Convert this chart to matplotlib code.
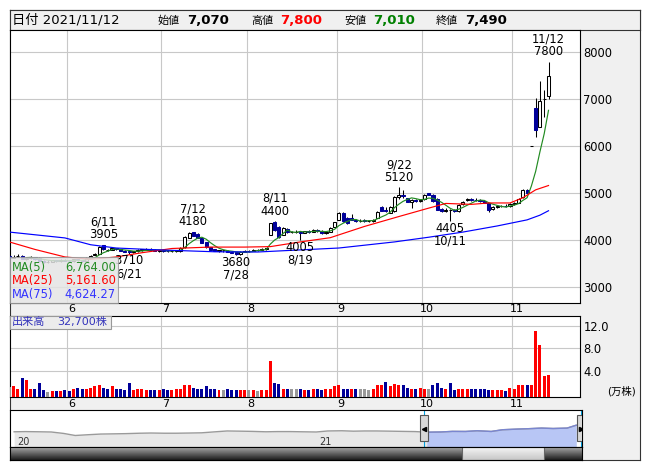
import matplotlib.pyplot as plt
from matplotlib.patches import Rectangle
import matplotlib.transforms as mtransforms
import numpy as np
import pandas as pd

plt.rcParams['font.family'] = ['DejaVu Sans', 'Noto Sans CJK JP']

# trading days shown (Tokyo, 2021-05-12 .. 2021-11-12)
holidays = ['2021-07-22', '2021-07-23', '2021-08-09', '2021-09-20', '2021-09-23', '2021-11-03']
dates = pd.bdate_range('2021-05-12', '2021-11-12').drop(pd.to_datetime(holidays))

opens = [3660, 3620, 3660, 3670, 3600, 3620, 3630, 3620, 3560, 3540, 3540, 3570, 3550, 3580, 3560, 3550,
         3590, 3570, 3560, 3620, 3690, 3710, 3895, 3780, 3790, 3820, 3800, 3770, 3770, 3740, 3760, 3790,
         3790, 3810, 3790, 3770, 3780, 3770, 3760, 3770, 3760, 3850, 4050, 4170, 4130, 4040, 3950, 3850,
         3800, 3770, 3780, 3770, 3750, 3740, 3700, 3750, 3770, 3770, 3790, 3790, 3810, 4110, 4380, 4270,
         4110, 4240, 4170, 4170, 4170, 4160, 4190, 4180, 4220, 4200, 4140, 4180, 4270, 4430, 4580, 4480,
         4460, 4430, 4410, 4420, 4400, 4410, 4470, 4700, 4640, 4580, 4620, 4920, 4960, 4890, 4800, 4860,
         4840, 4870, 5000, 4960, 4870, 4670, 4620, 4630, 4640, 4610, 4760, 4850, 4880, 4860, 4860, 4840,
         4780, 4660, 4700, 4720, 4730, 4720, 4760, 4790, 4920, 5070, 6010, 6810, 6405, 7000, 7070]
highs = [3700, 3680, 3700, 3680, 3640, 3650, 3640, 3630, 3580, 3570, 3580, 3580, 3590, 3590, 3570, 3600,
         3600, 3580, 3630, 3680, 3730, 3880, 3905, 3800, 3840, 3830, 3810, 3780, 3780, 3770, 3800, 3810,
         3820, 3820, 3800, 3790, 3800, 3790, 3780, 3790, 3850, 4080, 4170, 4180, 4150, 4050, 3960, 3860,
         3810, 3790, 3790, 3780, 3770, 3750, 3760, 3780, 3790, 3800, 3810, 3820, 3830, 4370, 4400, 4290,
         4270, 4260, 4200, 4210, 4180, 4200, 4210, 4230, 4240, 4210, 4180, 4280, 4390, 4590, 4600, 4500,
         4560, 4450, 4440, 4440, 4420, 4450, 4610, 4720, 4700, 4720, 4930, 5120, 5060, 4900, 4880, 4880,
         4870, 4990, 5010, 4990, 4890, 4690, 4680, 4660, 4670, 4760, 4830, 4900, 4900, 4890, 4880, 4860,
         4790, 4720, 4740, 4750, 4760, 4780, 4800, 4890, 5080, 5080, 6010, 7020, 7380, 7200, 7800]
lows = [3600, 3610, 3640, 3590, 3570, 3600, 3580, 3540, 3520, 3520, 3530, 3540, 3540, 3550, 3530, 3540,
        3550, 3540, 3560, 3610, 3680, 3700, 3780, 3760, 3780, 3790, 3760, 3740, 3710, 3720, 3750, 3770,
        3780, 3770, 3760, 3750, 3750, 3750, 3740, 3750, 3750, 3840, 4040, 4080, 4040, 3930, 3830, 3780,
        3760, 3750, 3750, 3740, 3720, 3680, 3690, 3740, 3750, 3760, 3770, 3780, 3790, 4100, 4200, 4050,
        4100, 4150, 4150, 4160, 4005, 4140, 4160, 4170, 4180, 4130, 4120, 4170, 4260, 4420, 4380, 4350,
        4420, 4390, 4390, 4380, 4380, 4390, 4460, 4610, 4600, 4570, 4600, 4880, 4900, 4800, 4680, 4820,
        4810, 4850, 4950, 4820, 4640, 4600, 4600, 4405, 4600, 4600, 4740, 4830, 4840, 4830, 4820, 4780,
        4600, 4640, 4680, 4700, 4700, 4700, 4740, 4780, 4900, 5000, 6010, 6200, 6400, 6630, 7010]
closes = [3610, 3640, 3660, 3600, 3620, 3630, 3590, 3560, 3540, 3540, 3570, 3550, 3580, 3560, 3550, 3590,
          3570, 3560, 3620, 3670, 3700, 3860, 3800, 3790, 3830, 3800, 3770, 3750, 3740, 3760, 3790, 3800,
          3810, 3780, 3770, 3780, 3770, 3760, 3770, 3780, 3840, 4060, 4160, 4090, 4050, 3940, 3850, 3790,
          3770, 3780, 3780, 3750, 3730, 3700, 3750, 3770, 3770, 3790, 3790, 3810, 3820, 4360, 4220, 4060,
          4250, 4170, 4170, 4170, 4160, 4190, 4180, 4220, 4190, 4140, 4170, 4260, 4380, 4580, 4400, 4370,
          4430, 4410, 4410, 4410, 4410, 4430, 4600, 4620, 4610, 4700, 4920, 4960, 4930, 4820, 4860, 4840,
          4850, 4960, 4960, 4830, 4650, 4620, 4650, 4640, 4620, 4750, 4820, 4880, 4860, 4850, 4840, 4790,
          4640, 4700, 4720, 4730, 4720, 4760, 4790, 4880, 5070, 5010, 6010, 6350, 6970, 7000, 7490]
# volume in 10,000 shares (万株)
volumes = [1.2, 1.4, 0.9, 2.8, 2.5, 0.9, 0.9, 1.9, 0.7, 0.35, 0.5, 0.55, 0.5, 0.7, 0.55, 0.9,
           1.1, 0.8, 0.8, 1.1, 1.3, 1.5, 1.1, 0.9, 1.3, 0.9, 0.9, 0.7, 1.9, 0.7, 0.8, 0.8,
           0.7, 0.7, 0.6, 0.7, 0.8, 0.6, 0.7, 0.8, 0.8, 1.6, 1.5, 1.0, 0.8, 0.9, 1.3, 0.9,
           0.9, 0.7, 0.6, 0.8, 0.6, 0.7, 0.7, 0.6, 0.6, 0.6, 0.5, 0.7, 0.7, 5.8, 1.9, 1.8,
           0.9, 0.9, 0.9, 0.9, 0.9, 0.6, 0.7, 0.8, 0.9, 0.7, 0.8, 0.9, 1.3, 1.5, 0.8, 0.9,
           0.9, 0.8, 0.8, 0.8, 0.7, 0.8, 1.5, 1.5, 2.1, 1.4, 1.8, 1.6, 1.6, 1.0, 0.9, 0.8,
           1.0, 0.9, 0.8, 1.5, 1.9, 1.1, 0.9, 1.9, 0.7, 0.8, 0.8, 0.8, 0.9, 0.9, 0.9, 0.9,
           0.7, 0.7, 0.7, 0.7, 0.5, 1.0, 0.8, 1.5, 1.5, 1.5, 1.6, 11.1, 8.6, 3.2, 3.27]

# moving averages 25 / 75
ma25_idx = [0, 6, 13, 19, 25, 31, 38, 47, 55, 61, 68, 75, 77, 83, 91, 98, 102, 108, 112, 117, 120, 123, 126]
ma25_val = [3960, 3800, 3640, 3590, 3640, 3730, 3820, 3850, 3850, 3860, 3960, 4050, 4110, 4290, 4500,
            4680, 4780, 4760, 4790, 4790, 4900, 5070, 5161.60]
ma75_idx = [0, 13, 19, 25, 35, 48, 58, 68, 77, 90, 98, 106, 114, 121, 124, 126]
ma75_val = [4170, 4045, 3900, 3830, 3790, 3750, 3745, 3790, 3830, 3960, 4060, 4170, 4300, 4430, 4530, 4624.27]

marks = [('2021-06-11', 'high'), ('2021-06-21', 'low'), ('2021-07-12', 'high'), ('2021-07-28', 'low'),
         ('2021-08-11', 'high'), ('2021-08-19', 'low'), ('2021-09-22', 'high'), ('2021-10-11', 'low'),
         ('2021-11-12', 'high')]

# long-range navigator line (semi-monthly, as drawn in the strip)
nav_dates = list(pd.date_range('2020-01-01', '2021-11-01', freq='SMS')) + [pd.Timestamp('2021-11-12')]
nav_close = [3700, 3750, 3700, 3650, 3300, 2800, 3000, 3150, 3200, 3250, 3350, 3400, 3350, 3350, 3400, 3450,
             3700, 3900, 3850, 3800, 3700, 3750, 3750, 3700, 3650, 3900, 3950, 3850, 3900, 3900, 3850, 3800,
             3750, 3600, 3650, 3800, 3780, 3950, 3780, 4200, 4350, 4450, 4600, 4500, 4600, 5300]

W, H = 653, 470
NAVY = '#000099'
RED = '#ff0000'
GRID = '#c8c8c8'
PANEL_BG = '#f0f0f0'

fig = plt.figure(figsize=(W / 100, H / 100), dpi=100)


def box(x0, y0, x1, y1):
    return fig.add_axes([x0 / W, 1 - y1 / H, (x1 - x0) / W, (y1 - y0) / H])


def ftext(x, y, s, **kw):
    fig.text(x / W, 1 - y / H, s, **kw)


def frect(x0, y0, x1, y1, **kw):
    fig.add_artist(Rectangle((x0 / W, 1 - y1 / H), (x1 - x0) / W, (y1 - y0) / H,
                             transform=fig.transFigure, **kw))


def frame(a, color='black'):
    for s in a.spines.values():
        s.set_color(color)
        s.set_linewidth(0.8)


# overall gray frame
bg = box(10, 10, 640, 460)
bg.set_facecolor(PANEL_BG)
bg.set_xticks([])
bg.set_yticks([])
frame(bg, '#333333')

# header
hd = box(10, 10, 640, 29.5)
hd.set_facecolor(PANEL_BG)
hd.set_xticks([])
hd.set_yticks([])
frame(hd, '#333333')
d_last = dates[-1]
ftext(12, 20, '日付 ' + d_last.strftime('%Y/%m/%d'), fontsize=9.5, va='center')
hdr = [('始値', opens[-1], 'black', 158), ('高値', highs[-1], RED, 251),
       ('安値', lows[-1], '#008000', 344), ('終値', closes[-1], 'black', 436)]
for lab, v, col, x0 in hdr:
    ftext(x0, 20.5, lab, fontsize=8, va='center')
    ftext(x0 + 29, 20, f'{v:,}', fontsize=9.5, fontweight='bold', color=col, va='center')

x = np.arange(len(closes))
o, h, l, c = (np.array(a, dtype=float) for a in (opens, highs, lows, closes))
vol = np.array(volumes)
xlim = (0.16, 133.36)

# price panel
ax = box(10, 29.5, 580, 302.7)
ax.set_xlim(*xlim)
ax.set_ylim(2665, 8486)
frame(ax)
month_first = [i for i in range(1, len(dates)) if dates[i].month != dates[i - 1].month]
ax.set_xticks([m - 0.5 for m in month_first])
ax.set_yticks([3000, 4000, 5000, 6000, 7000, 8000])
ax.yaxis.tick_right()
ax.tick_params(axis='x', length=0, labelbottom=False)
ax.tick_params(axis='y', length=0, pad=2.5, labelsize=8.3)
ax.grid(True, color=GRID, lw=0.8)
ax.set_axisbelow(True)

up = c >= o
ax.vlines(x, l, h, color='black', lw=0.75, zorder=2)
ax.bar(x[up], (c - o)[up], bottom=o[up], width=0.72, facecolor='white', edgecolor='black', lw=0.75, zorder=3)
ax.bar(x[~up], (o - c)[~up], bottom=c[~up], width=0.72, facecolor=NAVY, edgecolor=NAVY, lw=0.75, zorder=3)

ma5 = pd.Series(c).rolling(5).mean()
ax.plot(x, ma5, color='#228b22', lw=0.85, zorder=4)
ax.plot(ma25_idx, ma25_val, color=RED, lw=0.85, zorder=4)
ax.plot(ma75_idx, ma75_val, color='#0000ff', lw=0.85, zorder=4)

for ds, kind in marks:
    i = dates.get_loc(pd.Timestamp(ds))
    d = dates[i]
    if kind == 'high':
        ax.annotate(f'{d.month}/{d.day}\n{int(h[i])}', (i, h[i]), xytext=(0, 2.4), textcoords='offset points',
                    ha='center', va='bottom', fontsize=8.3, linespacing=1.0, zorder=5)
    else:
        ax.annotate(f'{int(l[i])}\n{d.month}/{d.day}', (i, l[i]), xytext=(0, -0.5), textcoords='offset points',
                    ha='center', va='top', fontsize=8.3, linespacing=1.0, zorder=5)

# MA legend box
frect(10, 257, 118, 302.5, facecolor='#e4e4e4', alpha=0.85, edgecolor='#999999', lw=0.8)
ma_rows = [('MA(5)', ma5.iloc[-1], '#228b22'), ('MA(25)', ma25_val[-1], RED), ('MA(75)', ma75_val[-1], '#3333ff')]
for k, (lab, v, col) in enumerate(ma_rows):
    yy = 267 + 13.8 * k
    ftext(12, yy, lab, color=col, fontsize=8.3, va='center')
    ftext(116, yy, f'{v:,.2f}', color=col, fontsize=8.3, va='center', ha='right')

# month labels under price panel
for m in month_first:
    ax.annotate(str(dates[m].month), (m + 0.5, 0), xycoords=('data', 'axes fraction'), xytext=(0, -4.3),
                textcoords='offset points', ha='center', va='center', fontsize=8, annotation_clip=False)

# volume panel
vx = box(10, 315.7, 580, 397.3)
vx.set_xlim(*xlim)
vx.set_ylim(-0.6, 13.74)
frame(vx)
vx.set_xticks([m - 0.5 for m in month_first])
vx.set_yticks([4, 8, 12])
vx.set_yticklabels(['4.0', '8.0', '12.0'])
vx.yaxis.tick_right()
vx.tick_params(axis='x', length=0, labelbottom=False)
vx.tick_params(axis='y', length=0, pad=2.5, labelsize=8.3)
vx.grid(True, color=GRID, lw=0.8)
vx.set_axisbelow(True)
chg = np.diff(c, prepend=c[0])
vcol = np.where(chg > 0, RED, np.where(chg < 0, NAVY, '#999999'))
vx.bar(x, vol + 0.6, bottom=-0.6, width=0.7, color=vcol, zorder=3)
for m in month_first:
    vx.annotate(str(dates[m].month), (m + 0.5, 0), xycoords=('data', 'axes fraction'), xytext=(0, -4.6),
                textcoords='offset points', ha='center', va='center', fontsize=8, annotation_clip=False)
ftext(622, 391, '(万株)', fontsize=7.5, ha='center', va='center')
frect(10, 315.7, 111, 329, facecolor='#ececec', edgecolor='#999999', lw=0.8)
ftext(12, 322.5, '出来高', fontsize=8, color='#3333bb', va='center')
ftext(57, 322.5, f'{int(round(vol[-1] * 10000)):,}株', fontsize=8, color='#3333bb', va='center')

# navigator
nv = box(10, 410, 582, 447)
nv.set_facecolor('white')
frame(nv)
nd = pd.to_datetime(nav_dates)
nv.set_xlim(pd.Timestamp('2019-12-27'), pd.Timestamp('2021-11-19'))
nv.set_ylim(0, 9000)
nv.set_xticks([])
nv.set_yticks([])
nc = np.array(nav_close, dtype=float)
sel = nd >= dates[0]
nv.fill_between(nd, nc, 0, color='#e8e8e8', lw=0)
nv.plot(nd, nc, color='#9a9a9a', lw=1.0)
nv.fill_between(nd[sel], nc[sel], 0, color='#b8c6f5', lw=0)
nv.plot(nd[sel], nc[sel], color='#7a86d0', lw=1.0)
for yr in ['2020-01-01', '2021-01-01']:
    nv.annotate(yr[2:4], (pd.Timestamp(yr), 0), xycoords=('data', 'axes fraction'), xytext=(2, 3.5),
                textcoords='offset points', ha='left', va='center', fontsize=7, color='#333333')
trans = mtransforms.blended_transform_factory(nv.transData, nv.transAxes)
for hx, mk in [(dates[0], '<'), (pd.Timestamp('2021-11-18'), '>')]:
    nv.axvline(hx, color='#00a0e0', lw=0.8)
    nv.add_patch(Rectangle((hx - pd.Timedelta(days=4.8), 0.16), pd.Timedelta(days=9.6), 0.7, transform=trans,
                           facecolor='#d8d8d8', edgecolor='#555555', lw=0.8, zorder=5))
    nv.plot([hx], [0.5], marker=mk, ms=3, color='black', transform=trans, zorder=6)

# scrollbar
sb = box(10, 447, 582, 460)
sb.set_xticks([])
sb.set_yticks([])
frame(sb)
grad = np.linspace(0.65, 0.12, 20).reshape(-1, 1)
sb.imshow(grad, cmap='gray', vmin=0, vmax=1, extent=(0, 572, 13, 0), aspect='auto')
grad2 = np.linspace(0.96, 0.78, 20).reshape(-1, 1)
sb.imshow(grad2, cmap='gray', vmin=0, vmax=1, extent=(452, 534, 13, 0), aspect='auto')
sb.add_patch(Rectangle((452, 0), 82, 13, facecolor='none', edgecolor='#666666', lw=0.8))
sb.set_xlim(0, 572)
sb.set_ylim(13, 0)

fig.savefig('out.png', dpi=100)
